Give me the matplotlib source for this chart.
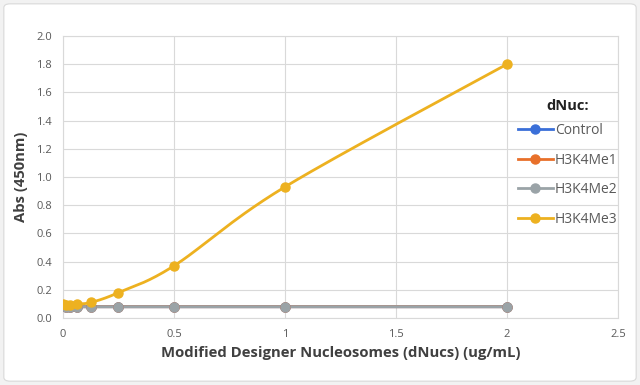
import numpy as np
import matplotlib
matplotlib.use("Agg")
import matplotlib.pyplot as plt
from matplotlib.patches import FancyBboxPatch

conc = [0, 0.015625, 0.03125, 0.0625, 0.125, 0.25, 0.5, 1, 2]
control = [0.09, 0.08, 0.08, 0.08, 0.08, 0.08, 0.08, 0.08, 0.08]
h3k4me1 = [0.09, 0.08, 0.08, 0.08, 0.08, 0.08, 0.08, 0.08, 0.08]
h3k4me2 = [0.09, 0.08, 0.08, 0.08, 0.08, 0.08, 0.08, 0.08, 0.08]
h3k4me3 = [0.10, 0.09, 0.09, 0.10, 0.11, 0.18, 0.37, 0.93, 1.80]
series_names = ["Control", "H3K4Me1", "H3K4Me2", "H3K4Me3"]
colors = ["#3A6FD8", "#E8702A", "#9AA3A7", "#EDB120"]

xticks = [0, 0.5, 1, 1.5, 2, 2.5]
xtick_labels = ["0", "0.5", "1", "1.5", "2", "2.5"]
yticks = [0.0, 0.2, 0.4, 0.6, 0.8, 1.0, 1.2, 1.4, 1.6, 1.8, 2.0]


def smooth(x, y, n=30):
    # Excel-style smoothed line (Catmull-Rom Bezier through data points)
    x = np.asarray(x, float)
    y = np.asarray(y, float)
    px, py = [], []
    m = len(x)
    for i in range(m - 1):
        x0, y0 = (x[i - 1], y[i - 1]) if i > 0 else (x[i], y[i])
        x1, y1 = x[i], y[i]
        x2, y2 = x[i + 1], y[i + 1]
        x3, y3 = (x[i + 2], y[i + 2]) if i + 2 < m else (x2, y2)
        c1x, c1y = x1 + (x2 - x0) / 6, y1 + (y2 - y0) / 6
        c2x, c2y = x2 - (x3 - x1) / 6, y2 - (y3 - y1) / 6
        t = np.linspace(0, 1, n)
        bx = (1 - t) ** 3 * x1 + 3 * (1 - t) ** 2 * t * c1x + 3 * (1 - t) * t ** 2 * c2x + t ** 3 * x2
        by = (1 - t) ** 3 * y1 + 3 * (1 - t) ** 2 * t * c1y + 3 * (1 - t) * t ** 2 * c2y + t ** 3 * y2
        px.extend(bx)
        py.extend(by)
    return np.array(px), np.array(py)


plt.rcParams['font.family'] = ['Open Sans', 'DejaVu Sans']

fig = plt.figure(figsize=(6.4, 3.85), dpi=100)
fig.patch.set_facecolor("#f2f2f2")
border = FancyBboxPatch((0.006, 0.01), 0.988, 0.98, boxstyle="round,pad=0,rounding_size=0.01",
                        transform=fig.transFigure, facecolor="white", edgecolor="#d9d9d9",
                        linewidth=0.8, zorder=-10)
fig.patches.append(border)

ax = fig.add_axes([0.0984, 0.174, 0.8672, 0.7325])
ax.set_facecolor("white")

for name, vals, c in zip(series_names, [control, h3k4me1, h3k4me2, h3k4me3], colors):
    sx, sy = smooth(conc, vals)
    ax.plot(sx, sy, color=c, lw=2.0, zorder=3, solid_capstyle='round')
    ax.plot(conc, vals, 'o', color=c, ms=6.5, zorder=4, mec=c)
    ax.plot([], [], '-o', color=c, lw=2.0, ms=6.5, label=name)

ax.set_xlim(0, 2.5)
ax.set_ylim(0, 2.0)
ax.set_xticks(xticks)
ax.set_xticklabels(xtick_labels)
ax.set_yticks(yticks)
ax.set_yticklabels([f"{v:.1f}" for v in yticks])
ax.grid(True, color="#d9d9d9", lw=0.8)
ax.set_axisbelow(True)
for s in ["top", "right", "left", "bottom"]:
    ax.spines[s].set_color("#d9d9d9")
    ax.spines[s].set_linewidth(0.8)
ax.tick_params(length=0, colors="#595959", labelsize=8, pad=8)
ax.tick_params(axis='x', pad=8)

ax.set_xlabel("Modified Designer Nucleosomes (dNucs) (ug/mL)", fontsize=10.7,
              fontweight="bold", color="#404040", labelpad=4)
ax.set_ylabel("Abs (450nm)", fontsize=10.7, fontweight="bold", color="#404040", labelpad=6)

leg = ax.legend(loc="upper left", bbox_to_anchor=(0.82, 0.775), frameon=False,
                title="dNuc:", fontsize=10, handlelength=2.5, handletextpad=0.15,
                labelspacing=1.05, labelcolor="#595959", borderpad=0, borderaxespad=0)
leg.get_title().set_fontweight("bold")
leg.get_title().set_fontsize(10.5)
leg.get_title().set_color("#222222")
leg._legend_box.sep = 7

fig.savefig("out.png", dpi=100, facecolor=fig.get_facecolor())
